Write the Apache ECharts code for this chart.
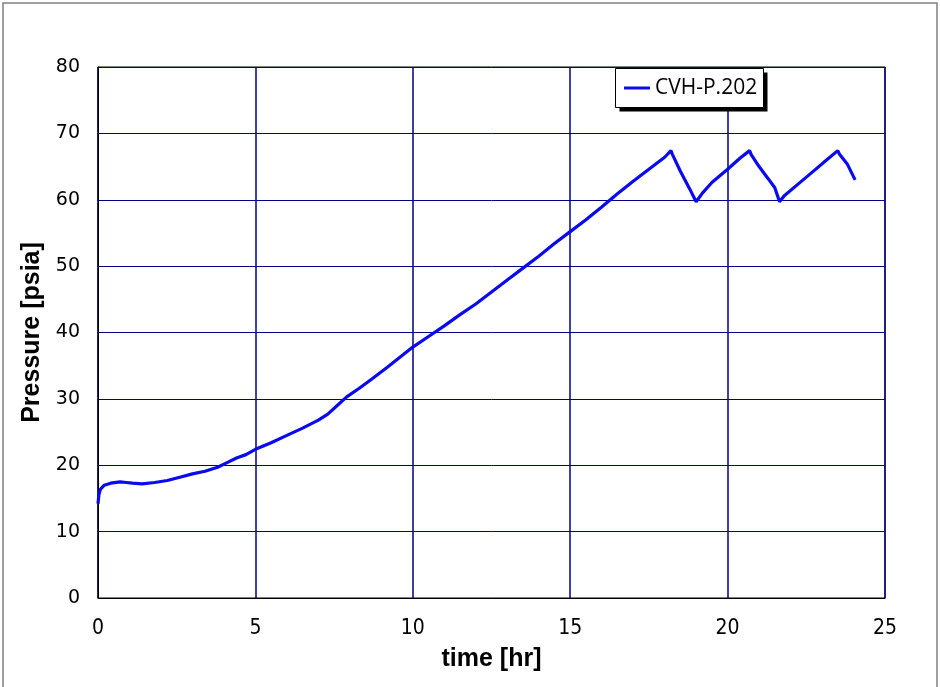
<!DOCTYPE html>
<html>
<head>
<meta charset="utf-8">
<script src="https://cdn.jsdelivr.net/npm/echarts@6/dist/echarts.min.js"></script>
<style>html,body{margin:0;padding:0;background:#fff}#c{width:940px;height:687px}</style>
</head>
<body>
<div id="c"></div>
<script>
const seriesName = 'CVH-P.202';
const xTicks = [0, 5, 10, 15, 20, 25];
const yTicks = [0, 10, 20, 30, 40, 50, 60, 70, 80];
const timeHr = [0, 0.03, 0.08, 0.2, 0.4, 0.7, 0.9, 1.1, 1.4, 1.8, 2.2, 2.6, 3.0, 3.4, 3.8, 4.1, 4.4, 4.7, 5.0, 5.5, 6.0, 6.5, 7.0, 7.3, 7.6, 7.9, 8.3, 8.7, 9.2, 9.6, 10.0, 10.5, 11.0, 11.5, 12.0, 12.5, 13.0, 13.5, 14.0, 14.5, 15.0, 15.5, 16.0, 16.5, 17.0, 17.5, 18.0, 18.2, 18.25, 18.5, 18.8, 19.0, 19.2, 19.5, 20.0, 20.4, 20.7, 20.75, 21.0, 21.3, 21.5, 21.65, 21.8, 22.2, 22.7, 23.2, 23.5, 23.55, 23.8, 24.05];
const pressurePsia = [14.2, 15.6, 16.4, 17.0, 17.3, 17.5, 17.4, 17.3, 17.2, 17.4, 17.7, 18.2, 18.7, 19.1, 19.7, 20.4, 21.1, 21.6, 22.4, 23.4, 24.5, 25.6, 26.8, 27.7, 29.0, 30.3, 31.6, 33.0, 34.8, 36.3, 37.8, 39.4, 41.0, 42.7, 44.3, 46.1, 47.9, 49.7, 51.5, 53.4, 55.2, 57.0, 58.9, 60.9, 62.8, 64.6, 66.4, 67.4, 66.8, 64.3, 61.6, 59.7, 61.0, 62.6, 64.6, 66.3, 67.4, 66.8, 65.0, 63.1, 61.8, 59.7, 60.6, 62.2, 64.2, 66.2, 67.4, 66.9, 65.4, 63.0];

const data = timeHr.map((t, i) => [t, pressurePsia[i]]);
const chart = echarts.init(document.getElementById('c'), null, {renderer: 'canvas'});
chart.setOption({
  animation: false,
  backgroundColor: '#fff',
  graphic: [
    {type: 'rect', shape: {x: 3, y: 3, width: 934, height: 720},
     style: {fill: 'none', stroke: '#808080', lineWidth: 1.5}, silent: true, z: 1},
    {type: 'rect', shape: {x: 619.5, y: 72.5, width: 148, height: 39},
     style: {fill: '#000', stroke: 'none'}, silent: true, z: 50},
    {type: 'rect', shape: {x: 615.5, y: 68.5, width: 148, height: 39},
     style: {fill: '#fff', stroke: '#000', lineWidth: 1}, silent: true, z: 51}
  ],
  grid: {left: 98, right: 55, top: 67, bottom: 89, show: true, borderColor: '#000', borderWidth: 1, backgroundColor: 'transparent'},
  legend: {
    left: 624, top: 76, orient: 'horizontal', z: 60,
    data: [{name: seriesName, icon: 'rect'}],
    itemWidth: 26, itemHeight: 3, padding: 0,
    textStyle: {fontFamily: 'Open Sans', fontSize: 21, lineHeight: 24, color: '#000'}
  },
  xAxis: {
    type: 'value', min: 0, max: 25, interval: 5,
    name: 'time [hr]', nameLocation: 'middle', nameGap: 49,
    nameTextStyle: {fontFamily: 'Liberation Sans', fontWeight: 'bold', fontSize: 25, color: '#000'},
    axisLine: {show: true, lineStyle: {color: '#000', width: 1}},
    axisTick: {show: false},
    axisLabel: {margin: 20, fontFamily: 'Liberation Sans Narrow, DejaVu Sans Condensed, sans-serif', fontSize: 21, color: '#000',
      formatter: v => xTicks.includes(v) ? String(v) : ''},
    splitLine: {show: true, lineStyle: {color: '#000080', width: 1.5}}
  },
  yAxis: {
    type: 'value', min: 0, max: 80, interval: 10,
    name: 'Pressure [psia]', nameLocation: 'middle', nameGap: 46,
    nameTextStyle: {fontFamily: 'Liberation Sans', fontWeight: 'bold', fontSize: 25, color: '#000'},
    axisLine: {show: true, lineStyle: {color: '#000', width: 1}},
    axisTick: {show: false},
    axisLabel: {margin: 18, fontFamily: 'DejaVu Sans', fontSize: 19, color: '#000',
      formatter: v => yTicks.includes(v) ? String(v) : ''},
    splitLine: {show: true, lineStyle: {color: '#000080', width: 1}}
  },
  series: [{
    name: seriesName, type: 'line', data: data, showSymbol: false, symbol: 'none', z: 3,
    lineStyle: {color: '#0a0af0', width: 3.2}, itemStyle: {color: '#0a0af0'}
  }]
});
</script>
</body>
</html>
